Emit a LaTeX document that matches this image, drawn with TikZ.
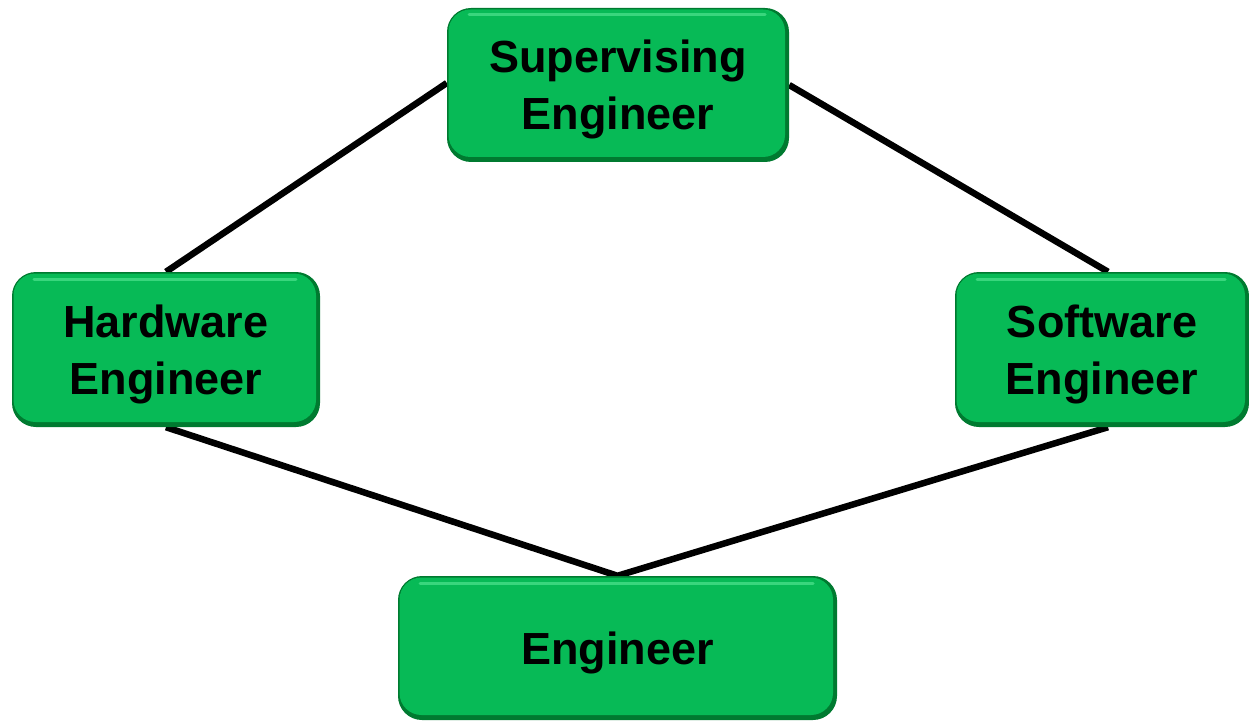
\documentclass[tikz,border=0pt]{standalone}
\usepackage{fontspec}
\setmainfont{Liberation Sans}
\pgfdeclarelayer{back}
\pgfsetlayers{back,main}
\definecolor{maingreen}{RGB}{7,186,86}
\definecolor{edgegreen}{RGB}{0,122,48}
\definecolor{lightgreen}{RGB}{70,222,135}
\tikzset{
  eng/.style={
    rounded corners=24pt, fill=edgegreen, inner sep=0pt, align=center,
    text depth=0pt,
    font=\fontsize{45}{57}\selectfont\bfseries,
    path picture={
      \fill[maingreen, rounded corners=22pt]
        ([shift={(1.5pt,-1.5pt)}]path picture bounding box.north west) rectangle
        ([shift={(-4pt,5pt)}]path picture bounding box.south east);
      \draw[lightgreen, line width=3pt, line cap=round, opacity=0.8]
        ([shift={(22pt,-7pt)}]path picture bounding box.north west) --
        ([shift={(-24pt,-7pt)}]path picture bounding box.north east);
    }},
  link/.style={line width=6.5pt, black, line join=miter}
}
\begin{document}
\begin{tikzpicture}[x=1pt, y=-1pt]
  \useasboundingbox (0,0) rectangle (1249,722);
  \node[eng, minimum width=342pt, minimum height=154pt] (sup) at (618,85) {Supervising\\Engineer};
  \node[eng, minimum width=308pt, minimum height=155pt] (hw) at (166,349.5) {Hardware\\Engineer};
  \node[eng, minimum width=294pt, minimum height=155pt] (sw) at (1102,349.5) {Software\\Engineer};
  \node[eng, minimum width=439pt, minimum height=144pt] (en) at (617.5,648) {Engineer};
  \begin{pgfonlayer}{back}
    \draw[link] ([yshift=2pt]sup.west) -- (hw.north);
    \draw[link] (sup.east) -- ([xshift=6pt]sw.north);
    \draw[link] (hw.south) -- (en.north) -- ([xshift=6pt]sw.south);
  \end{pgfonlayer}
\end{tikzpicture}
\end{document}
